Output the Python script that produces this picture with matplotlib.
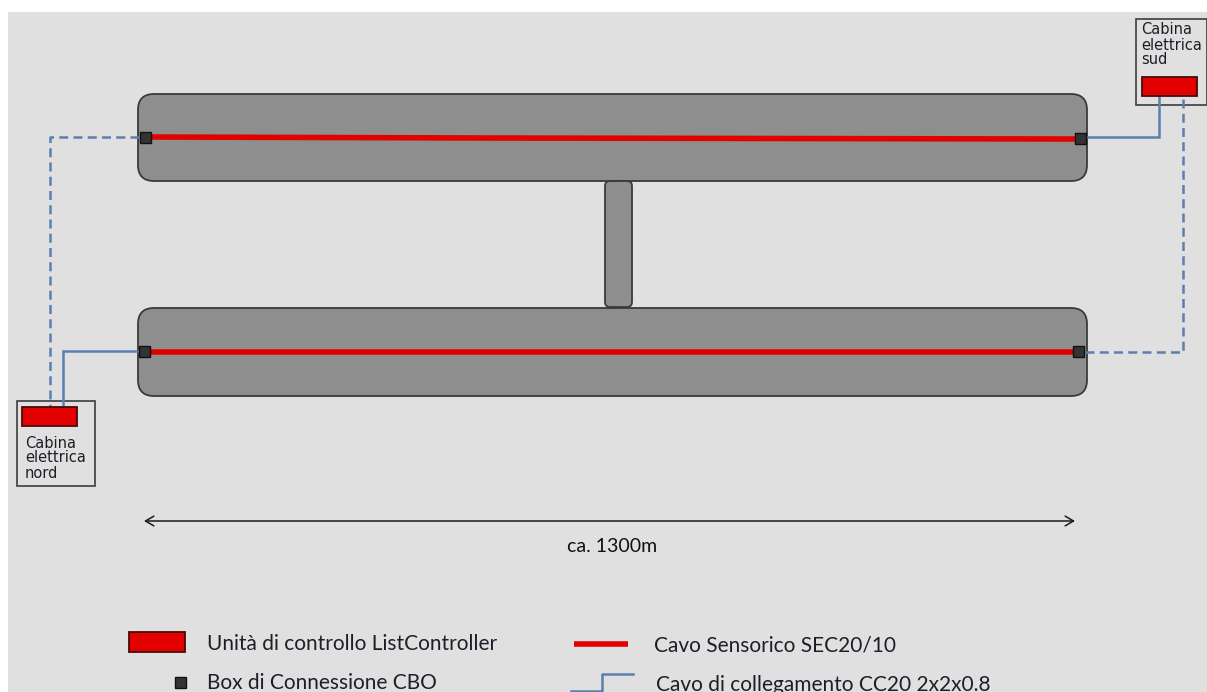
import matplotlib
matplotlib.use("Agg")
import matplotlib.pyplot as plt
from matplotlib.patches import FancyBboxPatch, Rectangle

W, H = 1207, 692

# Diagram geometry (pixel units)
platforms = [(138, 94, 949, 87, 16), (138, 308, 949, 88, 16), (605, 181, 27, 126, 5)]
sensor_cables = [([150, 490, 1075], [137, 138, 139]), ([150, 1075], [352, 352])]
connection_boxes = [(145, 137), (1080, 138), (144, 351), (1078, 351)]
solid_links = [([1085, 1159, 1159], [137, 137, 96]),
               ([138, 63, 63], [351, 351, 406])]
dashed_links = [([139, 50, 50], [137, 137, 406]),
                ([1085, 1183, 1183], [352, 352, 96])]
cabins = [(1136, 19, 71, 86), (17, 401, 78, 85)]
controllers = [(1142, 77, 55, 19), (22, 407, 55, 19)]
cabin_text = [(1141, 30, "Cabina"), (1141, 45, "elettrica"), (1141, 60, "sud"),
              (25, 443, "Cabina"), (25, 458, "elettrica"), (25, 474, "nord")]
span_x = [144, 1075]
span_y = 521
span_label = "ca. 1300m"

legend_controller = (129, 632, 56, 20)
legend_box = (180, 682)
legend_red_line = ([574, 628], [644, 644])
legend_link = ([571, 602, 602, 633], [691, 691, 674, 674])
legend_text = [(207, 644, "Unità di controllo ListController"),
               (207, 683, "Box di Connessione CBO"),
               (654, 646, "Cavo Sensorico SEC20/10"),
               (656, 685, "Cavo di collegamento CC20 2x2x0.8")]

RED = "#e30000"
BLUE = "#5b80ae"
GREY = "#8e8e8e"
BG = "#e0e0e0"
FONT = ["Lato", "DejaVu Sans"]
CABIN_FONT = ["DejaVu Sans"]

fig = plt.figure(figsize=(W / 100, H / 100), dpi=100, facecolor="white")
ax = fig.add_axes([0, 0, 1, 1])
ax.set_xlim(0, W)
ax.set_ylim(H, 0)
ax.axis("off")

ax.add_patch(Rectangle((8, 12), W - 8, H - 12, fc=BG, ec="none", zorder=0))

for x, y, w, h, r in platforms:
    ax.add_patch(FancyBboxPatch((x + r, y + r), w - 2 * r, h - 2 * r,
                                boxstyle=f"round,pad={r},rounding_size={r}",
                                fc=GREY, ec="#3a3a3a", lw=1.3, zorder=2))

for x, y, w, h in cabins:
    ax.add_patch(Rectangle((x, y), w, h, fc=BG, ec="#3c3c3c", lw=1.2, zorder=1))

for xs, ys in solid_links:
    ax.plot(xs, ys, color=BLUE, lw=1.8, zorder=3, solid_joinstyle="miter")
for xs, ys in dashed_links:
    ax.plot(xs, ys, color=BLUE, lw=1.8, ls=(0, (3.6, 2.1)), zorder=3)

for xs, ys in sensor_cables:
    ax.plot(xs, ys, color=RED, lw=4.0, zorder=4, solid_capstyle="butt")

for x, y, w, h in controllers + [legend_controller]:
    ax.add_patch(Rectangle((x, y), w, h, fc=RED, ec="#4a0808", lw=1.3, zorder=5))

for x, y in connection_boxes + [legend_box]:
    ax.add_patch(Rectangle((x - 5.5, y - 5.5), 11, 11, fc="#333333", ec="#111111",
                           lw=1.0, zorder=6))

for x, y, s in cabin_text:
    ax.text(x, y, s, fontsize=10.5, family=CABIN_FONT, color="#1e1e28", va="center", ha="left", zorder=7)

ax.annotate("", xy=(span_x[0], span_y), xytext=(span_x[1], span_y),
            arrowprops=dict(arrowstyle="<->,head_length=0.6,head_width=0.35", color="#1a1a1a",
                            lw=1.1, shrinkA=0, shrinkB=0), zorder=3)
ax.text(612, 547, span_label, fontsize=14, family=FONT, color="#111111",
        ha="center", va="center")

ax.plot(*legend_red_line, color=RED, lw=4, solid_capstyle="butt", zorder=4)
ax.plot(*legend_link, color=BLUE, lw=1.8, zorder=3)
for x, y, s in legend_text:
    ax.text(x, y, s, fontsize=15, family=FONT, color="#1e1e28", va="center", ha="left")

fig.savefig("out.png", dpi=100, facecolor="white")
